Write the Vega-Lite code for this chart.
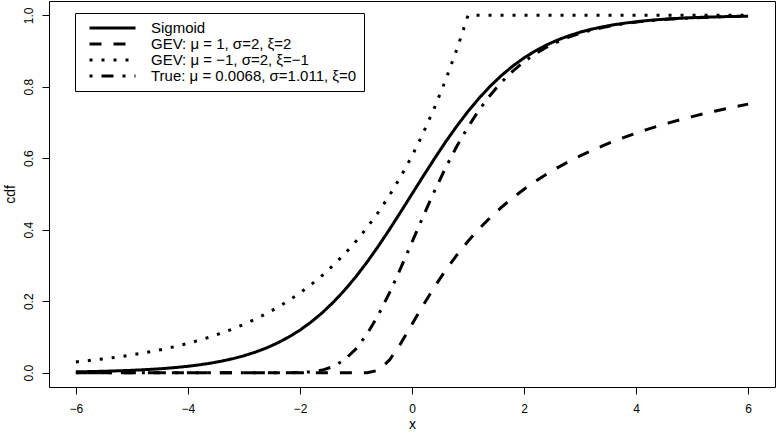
{
  "$schema": "https://vega.github.io/schema/vega-lite/v6.json",
  "width": 726,
  "height": 386,
  "autosize": {"type": "none"},
  "padding": {"left": 49, "top": 1, "right": 1, "bottom": 46},
  "background": "white",
  "config": {
    "view": {"stroke": "black", "strokeWidth": 1},
    "font": "Liberation Sans",
    "axis": {"domain": false, "grid": false, "tickColor": "black", "tickSize": 7, "tickWidth": 1, "labelColor": "black", "labelFontSize": 12, "titleColor": "black", "titleFontSize": 14, "titleFontWeight": "normal"}
  },
  "data": {"values": [
    {"c":"S","x":-6,"y":0.0025},{"c":"S","x":-5.8,"y":0.0030},{"c":"S","x":-5.6,"y":0.0037},{"c":"S","x":-5.4,"y":0.0045},{"c":"S","x":-5.2,"y":0.0055},{"c":"S","x":-5,"y":0.0067},{"c":"S","x":-4.8,"y":0.0082},{"c":"S","x":-4.6,"y":0.0100},{"c":"S","x":-4.4,"y":0.0121},{"c":"S","x":-4.2,"y":0.0148},{"c":"S","x":-4,"y":0.0180},{"c":"S","x":-3.8,"y":0.0219},{"c":"S","x":-3.6,"y":0.0266},{"c":"S","x":-3.4,"y":0.0323},{"c":"S","x":-3.2,"y":0.0392},{"c":"S","x":-3,"y":0.0474},{"c":"S","x":-2.8,"y":0.0573},{"c":"S","x":-2.6,"y":0.0691},{"c":"S","x":-2.4,"y":0.0832},{"c":"S","x":-2.2,"y":0.0998},{"c":"S","x":-2,"y":0.1192},{"c":"S","x":-1.8,"y":0.1419},{"c":"S","x":-1.6,"y":0.1680},{"c":"S","x":-1.4,"y":0.1978},{"c":"S","x":-1.2,"y":0.2315},{"c":"S","x":-1,"y":0.2689},{"c":"S","x":-0.8,"y":0.3100},{"c":"S","x":-0.6,"y":0.3543},{"c":"S","x":-0.4,"y":0.4013},{"c":"S","x":-0.2,"y":0.4502},{"c":"S","x":0,"y":0.5},{"c":"S","x":0.2,"y":0.5498},{"c":"S","x":0.4,"y":0.5987},{"c":"S","x":0.6,"y":0.6457},{"c":"S","x":0.8,"y":0.6900},{"c":"S","x":1,"y":0.7311},{"c":"S","x":1.2,"y":0.7685},{"c":"S","x":1.4,"y":0.8022},{"c":"S","x":1.6,"y":0.8320},{"c":"S","x":1.8,"y":0.8581},{"c":"S","x":2,"y":0.8808},{"c":"S","x":2.2,"y":0.9002},{"c":"S","x":2.4,"y":0.9168},{"c":"S","x":2.6,"y":0.9309},{"c":"S","x":2.8,"y":0.9427},{"c":"S","x":3,"y":0.9526},{"c":"S","x":3.2,"y":0.9608},{"c":"S","x":3.4,"y":0.9677},{"c":"S","x":3.6,"y":0.9734},{"c":"S","x":3.8,"y":0.9781},{"c":"S","x":4,"y":0.9820},{"c":"S","x":4.2,"y":0.9852},{"c":"S","x":4.4,"y":0.9879},{"c":"S","x":4.6,"y":0.9900},{"c":"S","x":4.8,"y":0.9918},{"c":"S","x":5,"y":0.9933},{"c":"S","x":5.2,"y":0.9945},{"c":"S","x":5.4,"y":0.9955},{"c":"S","x":5.6,"y":0.9963},{"c":"S","x":5.8,"y":0.9970},{"c":"S","x":6,"y":0.9975},
    {"c":"G1","x":-6,"y":0},{"c":"G1","x":-5.8,"y":0},{"c":"G1","x":-5.6,"y":0},{"c":"G1","x":-5.4,"y":0},{"c":"G1","x":-5.2,"y":0},{"c":"G1","x":-5,"y":0},{"c":"G1","x":-4.8,"y":0},{"c":"G1","x":-4.6,"y":0},{"c":"G1","x":-4.4,"y":0},{"c":"G1","x":-4.2,"y":0},{"c":"G1","x":-4,"y":0},{"c":"G1","x":-3.8,"y":0},{"c":"G1","x":-3.6,"y":0},{"c":"G1","x":-3.4,"y":0},{"c":"G1","x":-3.2,"y":0},{"c":"G1","x":-3,"y":0},{"c":"G1","x":-2.8,"y":0},{"c":"G1","x":-2.6,"y":0},{"c":"G1","x":-2.4,"y":0},{"c":"G1","x":-2.2,"y":0},{"c":"G1","x":-2,"y":0},{"c":"G1","x":-1.8,"y":0},{"c":"G1","x":-1.6,"y":0},{"c":"G1","x":-1.4,"y":0},{"c":"G1","x":-1.2,"y":0},{"c":"G1","x":-1,"y":0},{"c":"G1","x":-0.8,"y":0.0000},{"c":"G1","x":-0.6,"y":0.0067},{"c":"G1","x":-0.4,"y":0.0357},{"c":"G1","x":-0.2,"y":0.0821},{"c":"G1","x":0,"y":0.1353},{"c":"G1","x":0.2,"y":0.1889},{"c":"G1","x":0.4,"y":0.2397},{"c":"G1","x":0.6,"y":0.2865},{"c":"G1","x":0.8,"y":0.3292},{"c":"G1","x":1,"y":0.3679},{"c":"G1","x":1.2,"y":0.4029},{"c":"G1","x":1.4,"y":0.4346},{"c":"G1","x":1.6,"y":0.4634},{"c":"G1","x":1.8,"y":0.4895},{"c":"G1","x":2,"y":0.5134},{"c":"G1","x":2.2,"y":0.5353},{"c":"G1","x":2.4,"y":0.5553},{"c":"G1","x":2.6,"y":0.5738},{"c":"G1","x":2.8,"y":0.5908},{"c":"G1","x":3,"y":0.6065},{"c":"G1","x":3.2,"y":0.6211},{"c":"G1","x":3.4,"y":0.6347},{"c":"G1","x":3.6,"y":0.6474},{"c":"G1","x":3.8,"y":0.6592},{"c":"G1","x":4,"y":0.6703},{"c":"G1","x":4.2,"y":0.6807},{"c":"G1","x":4.4,"y":0.6905},{"c":"G1","x":4.6,"y":0.6997},{"c":"G1","x":4.8,"y":0.7083},{"c":"G1","x":5,"y":0.7165},{"c":"G1","x":5.2,"y":0.7243},{"c":"G1","x":5.4,"y":0.7316},{"c":"G1","x":5.6,"y":0.7386},{"c":"G1","x":5.8,"y":0.7452},{"c":"G1","x":6,"y":0.7515},
    {"c":"G2","x":-6,"y":0.0302},{"c":"G2","x":-5.8,"y":0.0334},{"c":"G2","x":-5.6,"y":0.0369},{"c":"G2","x":-5.4,"y":0.0408},{"c":"G2","x":-5.2,"y":0.0450},{"c":"G2","x":-5,"y":0.0498},{"c":"G2","x":-4.8,"y":0.0550},{"c":"G2","x":-4.6,"y":0.0608},{"c":"G2","x":-4.4,"y":0.0672},{"c":"G2","x":-4.2,"y":0.0743},{"c":"G2","x":-4,"y":0.0821},{"c":"G2","x":-3.8,"y":0.0907},{"c":"G2","x":-3.6,"y":0.1003},{"c":"G2","x":-3.4,"y":0.1108},{"c":"G2","x":-3.2,"y":0.1225},{"c":"G2","x":-3,"y":0.1353},{"c":"G2","x":-2.8,"y":0.1496},{"c":"G2","x":-2.6,"y":0.1653},{"c":"G2","x":-2.4,"y":0.1827},{"c":"G2","x":-2.2,"y":0.2019},{"c":"G2","x":-2,"y":0.2231},{"c":"G2","x":-1.8,"y":0.2466},{"c":"G2","x":-1.6,"y":0.2725},{"c":"G2","x":-1.4,"y":0.3012},{"c":"G2","x":-1.2,"y":0.3329},{"c":"G2","x":-1,"y":0.3679},{"c":"G2","x":-0.8,"y":0.4066},{"c":"G2","x":-0.6,"y":0.4493},{"c":"G2","x":-0.4,"y":0.4966},{"c":"G2","x":-0.2,"y":0.5488},{"c":"G2","x":0,"y":0.6065},{"c":"G2","x":0.2,"y":0.6703},{"c":"G2","x":0.4,"y":0.7408},{"c":"G2","x":0.6,"y":0.8187},{"c":"G2","x":0.8,"y":0.9048},{"c":"G2","x":0.9,"y":0.9512},{"c":"G2","x":1,"y":1},{"c":"G2","x":1.2,"y":1},{"c":"G2","x":1.4,"y":1},{"c":"G2","x":1.6,"y":1},{"c":"G2","x":1.8,"y":1},{"c":"G2","x":2,"y":1},{"c":"G2","x":2.2,"y":1},{"c":"G2","x":2.4,"y":1},{"c":"G2","x":2.6,"y":1},{"c":"G2","x":2.8,"y":1},{"c":"G2","x":3,"y":1},{"c":"G2","x":3.2,"y":1},{"c":"G2","x":3.4,"y":1},{"c":"G2","x":3.6,"y":1},{"c":"G2","x":3.8,"y":1},{"c":"G2","x":4,"y":1},{"c":"G2","x":4.2,"y":1},{"c":"G2","x":4.4,"y":1},{"c":"G2","x":4.6,"y":1},{"c":"G2","x":4.8,"y":1},{"c":"G2","x":5,"y":1},{"c":"G2","x":5.2,"y":1},{"c":"G2","x":5.4,"y":1},{"c":"G2","x":5.6,"y":1},{"c":"G2","x":5.8,"y":1},{"c":"G2","x":6,"y":1},
    {"c":"T","x":-6,"y":0},{"c":"T","x":-5.8,"y":0},{"c":"T","x":-5.6,"y":0},{"c":"T","x":-5.4,"y":0},{"c":"T","x":-5.2,"y":0},{"c":"T","x":-5,"y":0},{"c":"T","x":-4.8,"y":0},{"c":"T","x":-4.6,"y":0},{"c":"T","x":-4.4,"y":0},{"c":"T","x":-4.2,"y":0},{"c":"T","x":-4,"y":0},{"c":"T","x":-3.8,"y":0},{"c":"T","x":-3.6,"y":0},{"c":"T","x":-3.4,"y":0},{"c":"T","x":-3.2,"y":0},{"c":"T","x":-3,"y":0},{"c":"T","x":-2.8,"y":0},{"c":"T","x":-2.6,"y":0},{"c":"T","x":-2.4,"y":0},{"c":"T","x":-2.2,"y":0.0001},{"c":"T","x":-2,"y":0.0007},{"c":"T","x":-1.8,"y":0.0025},{"c":"T","x":-1.6,"y":0.0074},{"c":"T","x":-1.4,"y":0.0176},{"c":"T","x":-1.2,"y":0.0369},{"c":"T","x":-1,"y":0.0667},{"c":"T","x":-0.8,"y":0.1085},{"c":"T","x":-0.6,"y":0.1616},{"c":"T","x":-0.4,"y":0.2242},{"c":"T","x":-0.2,"y":0.2932},{"c":"T","x":0,"y":0.3654},{"c":"T","x":0.2,"y":0.4378},{"c":"T","x":0.4,"y":0.5077},{"c":"T","x":0.6,"y":0.5734},{"c":"T","x":0.8,"y":0.6336},{"c":"T","x":1,"y":0.6877},{"c":"T","x":1.2,"y":0.7355},{"c":"T","x":1.4,"y":0.7772},{"c":"T","x":1.6,"y":0.8132},{"c":"T","x":1.8,"y":0.8439},{"c":"T","x":2,"y":0.8700},{"c":"T","x":2.2,"y":0.8920},{"c":"T","x":2.4,"y":0.9105},{"c":"T","x":2.6,"y":0.9260},{"c":"T","x":2.8,"y":0.9388},{"c":"T","x":3,"y":0.9495},{"c":"T","x":3.2,"y":0.9584},{"c":"T","x":3.4,"y":0.9657},{"c":"T","x":3.6,"y":0.9718},{"c":"T","x":3.8,"y":0.9768},{"c":"T","x":4,"y":0.9809},{"c":"T","x":4.2,"y":0.9843},{"c":"T","x":4.4,"y":0.9871},{"c":"T","x":4.6,"y":0.9894},{"c":"T","x":4.8,"y":0.9913},{"c":"T","x":5,"y":0.9929},{"c":"T","x":5.2,"y":0.9941},{"c":"T","x":5.4,"y":0.9952},{"c":"T","x":5.6,"y":0.9961},{"c":"T","x":5.8,"y":0.9968},{"c":"T","x":6,"y":0.9973}
  ]},
  "mark": {"type": "line", "color": "black", "strokeWidth": 3, "strokeCap": "butt", "strokeJoin": "round"},
  "encoding": {
    "x": {"field": "x", "type": "quantitative", "scale": {"domain": [-6.48, 6.48], "nice": false, "zero": false},
      "axis": {"values": [-6, -4, -2, 0, 2, 4, 6], "labelPadding": 9, "title": "x", "titlePadding": 3}},
    "y": {"field": "y", "type": "quantitative", "scale": {"domain": [-0.04, 1.04], "nice": false, "zero": false},
      "axis": {"values": [0, 0.2, 0.4, 0.6, 0.8, 1], "format": ".1f", "labelAngle": -90, "labelAlign": "center", "labelBaseline": "bottom", "labelPadding": 7, "title": "cdf", "titlePadding": 5}},
    "strokeDash": {"field": "c", "type": "nominal",
      "scale": {"domain": ["S", "G1", "G2", "T"], "range": [[1, 0], [12, 12], [3, 9], [3, 9, 12, 9]]},
      "legend": {"orient": "none", "legendX": 26, "legendY": 12, "title": null,
        "symbolType": "stroke", "symbolSize": 2116, "symbolStrokeWidth": 3, "symbolStrokeColor": "black",
        "clipHeight": 16, "rowPadding": 0, "padding": 7, "symbolOffset": 6,
        "labelFontSize": 15, "labelColor": "black", "labelOffset": 14, "labelLimit": 400,
        "strokeColor": "black", "fillColor": "white",
        "labelExpr": "datum.label == 'S' ? 'Sigmoid' : datum.label == 'G1' ? 'GEV: μ = 1, σ=2, ξ=2' : datum.label == 'G2' ? 'GEV: μ = −1, σ=2, ξ=−1' : 'True: μ = 0.0068, σ=1.011, ξ=0'"}}
  }
}
